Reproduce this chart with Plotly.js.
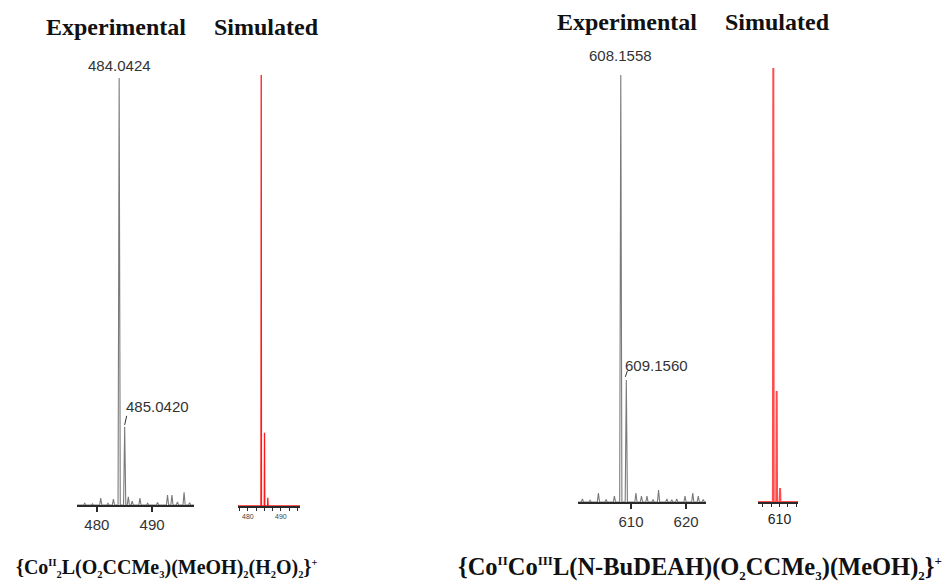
<!DOCTYPE html>
<html>
<head>
<meta charset="utf-8">
<script src="https://cdn.plot.ly/plotly-3.0.1.min.js"></script>
<style>html,body{margin:0;padding:0;background:#fff;}#chart{width:947px;height:586px;}</style>
</head>
<body>
<div id="chart"></div>
<script>
// ---- Data (m/z, relative intensity %) ----
const expL_mz  = [477.8, 479.2, 480.7, 482.0, 483.0, 484.04, 485.04, 485.7, 486.4, 487.8, 489.2, 491.0, 492.8, 493.6, 494.6, 495.8, 496.8];
const expL_int = [0.4,   0.3,   1.6,   0.4,   1.4,   100,    18.3,   1.9,   0.9,   1.6,   0.4,   0.6,   2.3,   2.3,   0.7,   3.0,   0.5];
const simL_mz  = [484.04, 485.04, 486.04];
const simL_int = [100,    17.0,   1.9];
const expR_mz  = [601.2, 602.6, 604.1, 605.5, 607.0, 608.156, 609.156, 610.9, 611.9, 612.9, 614.0, 615.0, 616.5, 617.4, 618.3, 619.8, 621.2, 622.2, 623.1];
const expR_int = [0.7,   0.4,   2.1,   0.6,   1.4,   100,     28.6,    2.1,   1.4,   1.4,   0.6,   2.8,   0.7,   0.5,   0.7,   1.4,   2.1,   1.4,   0.6];
const simR_mz  = [608.156, 609.156, 610.16];
const simR_int = [100,     25.6,    3.2];
const labelsL  = ["484.0424", "485.0420"];
const labelsR  = ["608.1558", "609.1560"];
const ticksL = [480, 490];
const ticksR = [610, 620];
const ticksSimR = [610];
const headings = ["Experimental", "Simulated"];

const W = 947, H = 586;
const px = v => v / W;
const py = v => 1 - v / H;

const sb = (t, s) => '<sub><span style="font-size:' + s + 'px">' + t + '</span></sub>';
const sp = (t, s) => '<sup><span style="font-size:' + s + 'px">' + t + '</span></sup>';
const fsL = 10.5, fsR = 13;
const formulaL = "{Co" + sp("II", fsL) + sb("2", fsL) + "L(O" + sb("2", fsL) + "CCMe" + sb("3", fsL) + ")(MeOH)" + sb("2", fsL) + "(H" + sb("2", fsL) + "O)" + sb("2", fsL) + "}" + sp("+", fsL);
const formulaR = "{Co" + sp("II", fsR) + "Co" + sp("III", fsR) + "L(N-BuDEAH)(O" + sb("2", fsR) + "CCMe" + sb("3", fsR) + ")(MeOH)" + sb("2", fsR) + "}" + sp("+", fsR);

// build stick/peak profile from peak lists
function profile(mz, inten, hw, lo, hi) {
  const xs = [lo], ys = [0];
  mz.forEach((m, i) => {
    xs.push(m - hw, m, m + hw);
    ys.push(0, inten[i], 0);
  });
  xs.push(hi); ys.push(0);
  return {x: xs, y: ys};
}

const rngs = {
  x1: [476.4, 497.6],
  x2: [477.0, 495.8],
  x3: [600.4, 623.6],
  x4: [603.6, 615.5]
};

const pL = profile(expL_mz, expL_int, 0.2, rngs.x1[0], rngs.x1[1]);
const sL = profile(simL_mz, simL_int, 0.08, rngs.x2[0], rngs.x2[1]);
const pR = profile(expR_mz, expR_int, 0.2, rngs.x3[0], rngs.x3[1]);
const sR = profile(simR_mz, simR_int, 0.12, rngs.x4[0], rngs.x4[1]);

const traces = [
  {x: pL.x, y: pL.y, xaxis: 'x', yaxis: 'y', type: 'scatter', mode: 'lines', line: {color: '#7a7a7a', width: 1.1}, hoverinfo: 'skip'},
  {x: sL.x, y: sL.y, xaxis: 'x2', yaxis: 'y2', type: 'scatter', mode: 'lines', line: {color: '#ff1a1a', width: 1.3}, hoverinfo: 'skip'},
  {x: pR.x, y: pR.y, xaxis: 'x3', yaxis: 'y3', type: 'scatter', mode: 'lines', line: {color: '#7a7a7a', width: 1.1}, hoverinfo: 'skip'},
  {x: sR.x, y: sR.y, xaxis: 'x4', yaxis: 'y4', type: 'scatter', mode: 'lines', line: {color: '#ff4d4d', width: 2}, hoverinfo: 'skip'}
];

const baseX = {
  showgrid: false, zeroline: false, showline: true, linecolor: '#2a2a2a',
  ticks: 'outside', tickcolor: '#2a2a2a', fixedrange: true,
  tickfont: {family: 'Liberation Sans, Arial, sans-serif', color: '#333', size: 15}
};
const baseY = {showgrid: false, zeroline: false, showline: false, showticklabels: false, ticks: '', range: [0, 100], fixedrange: true};

const layout = {
  width: W, height: H,
  margin: {l: 0, r: 0, t: 0, b: 0},
  paper_bgcolor: '#fff', plot_bgcolor: 'rgba(0,0,0,0)',
  showlegend: false,
  xaxis: Object.assign({}, baseX, {domain: [px(77), px(194)], range: rngs.x1, anchor: 'y', tickvals: ticksL, linewidth: 2, ticklen: 5, tickwidth: 1.5}),
  yaxis: Object.assign({}, baseY, {domain: [py(505), py(78)], anchor: 'x'}),
  xaxis2: Object.assign({}, baseX, {domain: [px(238), px(300)], range: rngs.x2, anchor: 'y2', tickvals: ticksL, linewidth: 1.5, ticklen: 3, tickwidth: 1,
    tickfont: {family: 'Liberation Sans, Arial, sans-serif', color: '#444', size: 7},
    minor: {dtick: 2.5, tick0: 480, ticks: 'outside', ticklen: 3, tickcolor: '#2a2a2a', tickwidth: 1}}),
  yaxis2: Object.assign({}, baseY, {domain: [py(506), py(75)], anchor: 'x2'}),
  xaxis3: Object.assign({}, baseX, {domain: [px(578), px(706)], range: rngs.x3, anchor: 'y3', tickvals: ticksR, linewidth: 2, ticklen: 5, tickwidth: 1.5}),
  yaxis3: Object.assign({}, baseY, {domain: [py(502), py(75)], anchor: 'x3'}),
  xaxis4: Object.assign({}, baseX, {domain: [px(758), px(798)], range: rngs.x4, anchor: 'y4', tickvals: ticksSimR, linewidth: 2, ticklen: 3, tickwidth: 1,
    tickfont: {family: 'Liberation Sans, Arial, sans-serif', color: '#222', size: 14},
    minor: {dtick: 2.5, tick0: 610, ticks: 'outside', ticklen: 3, tickcolor: '#2a2a2a', tickwidth: 1}}),
  yaxis4: Object.assign({}, baseY, {domain: [py(502), py(68)], anchor: 'x4'}),
  annotations: [],
  shapes: []
};

const numFont = {family: 'Liberation Sans, Arial, sans-serif', size: 15, color: '#333'};
const headFont = {family: 'Liberation Serif, Times New Roman, serif', size: 24, color: '#111'};
const formFontL = {family: 'Liberation Serif, Times New Roman, serif', size: 20, color: '#111'};
const formFontR = {family: 'Liberation Serif, Times New Roman, serif', size: 24.5, color: '#111'};

// peak labels
layout.annotations.push(
  {xref: 'x', yref: 'y', x: expL_mz[5], y: expL_int[5], text: labelsL[0], showarrow: false, yanchor: 'bottom', xanchor: 'center', yshift: 2, font: numFont},
  {xref: 'x', yref: 'y', x: expL_mz[6], y: expL_int[6], text: labelsL[1], showarrow: false, yanchor: 'bottom', xanchor: 'left', yshift: 10, xshift: -1, font: numFont},
  {xref: 'x3', yref: 'y3', x: expR_mz[5], y: expR_int[5], text: labelsR[0], showarrow: false, yanchor: 'bottom', xanchor: 'center', yshift: 9, font: numFont},
  {xref: 'x3', yref: 'y3', x: expR_mz[6], y: expR_int[6], text: labelsR[1], showarrow: false, yanchor: 'bottom', xanchor: 'left', yshift: 4, xshift: -3, font: numFont}
);
// little leader slashes
layout.shapes.push(
  {type: 'line', xref: 'x', yref: 'y', xsizemode: 'pixel', ysizemode: 'pixel', xanchor: expL_mz[6], yanchor: expL_int[6], x0: 0, x1: 2, y0: 2, y1: 11, line: {color: '#333', width: 1}},
  {type: 'line', xref: 'x3', yref: 'y3', xsizemode: 'pixel', ysizemode: 'pixel', xanchor: expR_mz[6], yanchor: expR_int[6], x0: -1, x1: 1, y0: 3, y1: 9, line: {color: '#333', width: 1}}
);
// headings and formulas
const paperAnn = (x, y, text, font) => ({xref: 'paper', yref: 'paper', x: px(x), y: py(y), xanchor: 'center', yanchor: 'middle', text: text, showarrow: false, font: font});
layout.annotations.push(
  paperAnn(116, 27, '<b>' + headings[0] + '</b>', headFont),
  paperAnn(266, 27, '<b>' + headings[1] + '</b>', headFont),
  paperAnn(627, 22, '<b>' + headings[0] + '</b>', headFont),
  paperAnn(777, 22, '<b>' + headings[1] + '</b>', headFont),
  paperAnn(166, 568, '<b>' + formulaL + '</b>', formFontL),
  paperAnn(700, 568, '<b>' + formulaR + '</b>', formFontR)
);

Plotly.newPlot('chart', traces, layout, {displayModeBar: false, staticPlot: true});
</script>
</body>
</html>
